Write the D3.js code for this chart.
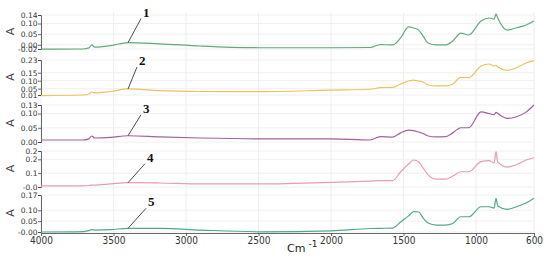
<!DOCTYPE html>
<html>
<head>
<meta charset="utf-8">
<script src="https://cdnjs.cloudflare.com/ajax/libs/d3/7.8.5/d3.min.js"></script>
<style>
  body { margin: 0; background: #fff; }
  svg { display: block; }
</style>
</head>
<body>
<div id="chart"></div>
<script>
// wavenumbers (cm-1) shared by all five spectra
var wavenumbers = [4000, 3710, 3670, 3650, 3630, 3520, 3400, 3180, 2900, 2490, 2000, 1730, 1660, 1575,
    1520, 1465, 1430, 1395, 1365, 1330, 1275, 1210, 1160, 1105, 1050, 965, 910, 875, 862, 850, 785, 725, 655, 600];

var spectrum1 = [-0.021, -0.020, -0.015, -0.001, -0.011, -0.004, 0.010, 0.004, -0.006, -0.014, -0.014, -0.013, 0.001, -0.001,
    0.032, 0.084, 0.079, 0.069, 0.041, 0.008, -0.001, -0.001, 0.018, 0.055, 0.046, 0.112, 0.126, 0.121, 0.145, 0.126, 0.069, 0.079, 0.093, 0.112];
var spectrum2 = [0.006, 0.010, 0.016, 0.029, 0.023, 0.032, 0.048, 0.037, 0.032, 0.031, 0.041, 0.046, 0.056, 0.058,
    0.079, 0.098, 0.104, 0.098, 0.092, 0.073, 0.067, 0.067, 0.079, 0.121, 0.119, 0.192, 0.205, 0.192, 0.197, 0.186, 0.165, 0.180, 0.211, 0.226];
var spectrum3 = [0.007, 0.007, 0.011, 0.021, 0.014, 0.016, 0.022, 0.018, 0.014, 0.011, 0.011, 0.007, 0.019, 0.017,
    0.032, 0.042, 0.040, 0.035, 0.030, 0.021, 0.018, 0.019, 0.032, 0.050, 0.050, 0.106, 0.100, 0.096, 0.104, 0.100, 0.083, 0.088, 0.105, 0.130];
var spectrum4 = [0.008, 0.008, 0.011, 0.014, 0.014, 0.022, 0.031, 0.029, 0.022, 0.022, 0.033, 0.043, 0.046, 0.046,
    0.110, 0.166, 0.195, 0.181, 0.138, 0.087, 0.057, 0.057, 0.079, 0.110, 0.110, 0.183, 0.190, 0.173, 0.255, 0.181, 0.144, 0.159, 0.195, 0.211];
var spectrum5 = [0.000, 0.002, 0.007, 0.011, 0.009, 0.011, 0.017, 0.017, 0.009, 0.001, 0.005, 0.016, 0.017, 0.018,
    0.046, 0.074, 0.094, 0.092, 0.064, 0.041, 0.032, 0.032, 0.039, 0.070, 0.070, 0.116, 0.116, 0.110, 0.155, 0.119, 0.104, 0.115, 0.133, 0.155];

var seriesNames = ["1", "2", "3", "4", "5"];
var seriesColors = ["#63a97b", "#e9c35e", "#a0629c", "#e79bb8", "#52a88c"];

// y axis ticks of each panel
var yTicks1 = [-0.02, 0.00, 0.05, 0.10, 0.14];
var yLabels1 = ["-0.02", "0.00", "0.05", "0.10", "0.14"];
var yTicks2 = [0.01, 0.05, 0.10, 0.15, 0.23];
var yLabels2 = ["0.01", "0.05", "0.10", "0.15", "0.23"];
var yTicks3 = [0.00, 0.05, 0.10, 0.13];
var yLabels3 = ["0.00", "0.05", "0.10", "0.13"];
var yTicks4 = [0.00, 0.10, 0.20, 0.26];
var yLabels4 = ["-0.0", "0.1", "0.2", "0.2"];
var yTicks5 = [0.00, 0.05, 0.10, 0.17];
var yLabels5 = ["-0.00", "0.05", "0.10", "0.17"];

var xTicks = [4000, 3500, 3000, 2500, 2000, 1500, 1000, 600];
var labelWavenumber = 3400;

var panels = [
    {values: spectrum1, ticks: yTicks1, labels: yLabels1, top: 15, bottom: 49, lead: [13, -24]},
    {values: spectrum2, ticks: yTicks2, labels: yLabels2, top: 60, bottom: 95, lead: [9, -22]},
    {values: spectrum3, ticks: yTicks3, labels: yLabels3, top: 105, bottom: 142, lead: [13, -21]},
    {values: spectrum4, ticks: yTicks4, labels: yLabels4, top: 151, bottom: 187, lead: [17, -19]},
    {values: spectrum5, ticks: yTicks5, labels: yLabels5, top: 195, bottom: 232, lead: [18, -20]}
];

var width = 550, height = 261;
var left = 41, right = 534, axisY = 233;

var svg = d3.select("#chart").append("svg")
    .attr("width", width)
    .attr("height", height);

var x = d3.scaleLinear().domain([4000, 600]).range([left, right]);

// faint vertical grid
svg.append("g").selectAll("line")
    .data(xTicks)
    .enter().append("line")
    .attr("x1", function (d) { return x(d); })
    .attr("x2", function (d) { return x(d); })
    .attr("y1", 12)
    .attr("y2", axisY)
    .attr("stroke", "#eeeeee")
    .attr("stroke-width", 1);

panels.forEach(function (p, i) {
    var y = d3.scaleLinear()
        .domain([p.ticks[0], p.ticks[p.ticks.length - 1]])
        .range([p.bottom, p.top]);

    // faint horizontal grid
    svg.append("g").selectAll("line")
        .data(p.ticks)
        .enter().append("line")
        .attr("x1", left)
        .attr("x2", right)
        .attr("y1", function (d) { return y(d); })
        .attr("y2", function (d) { return y(d); })
        .attr("stroke", "#f0f0f0");

    var yAxis = d3.axisLeft(y)
        .tickValues(p.ticks)
        .tickSize(3)
        .tickSizeOuter(3)
        .tickFormat(function (d, k) { return p.labels[k]; });

    var ga = svg.append("g")
        .attr("transform", "translate(" + left + ",0)")
        .call(yAxis);
    ga.selectAll("path, line").attr("stroke", "#444").attr("stroke-width", 0.8);
    ga.selectAll("text")
        .attr("x", -3.5)
        .attr("fill", "#333")
        .style("font-family", "DejaVu Sans")
        .style("font-size", "7.5px");

    // "A" axis title
    var mid = (p.top + p.bottom) / 2 - 0.5;
    svg.append("text")
        .attr("transform", "translate(14," + mid + ") rotate(-90)")
        .attr("text-anchor", "middle")
        .attr("fill", "#444")
        .style("font-family", "DejaVu Sans")
        .style("font-size", "11px")
        .text("A");

    var line = d3.line()
        .x(function (d, k) { return x(wavenumbers[k]); })
        .y(function (d) { return y(d); })
        .curve(d3.curveMonotoneX);

    svg.append("path")
        .datum(p.values)
        .attr("d", line)
        .attr("fill", "none")
        .attr("stroke", seriesColors[i])
        .attr("stroke-width", 1.2);

    // leader line and number
    var idx = wavenumbers.indexOf(labelWavenumber);
    var ex = x(labelWavenumber), ey = y(p.values[idx]);
    var sx = ex + p.lead[0], sy = ey + p.lead[1];
    svg.append("line")
        .attr("x1", ex).attr("y1", ey)
        .attr("x2", sx).attr("y2", sy)
        .attr("stroke", "#222")
        .attr("stroke-width", 0.8);
    svg.append("text")
        .attr("x", sx + 2)
        .attr("y", sy - 2)
        .attr("fill", "#111")
        .style("font-family", "Liberation Serif")
        .style("font-weight", "bold")
        .style("font-size", "13px")
        .text(seriesNames[i]);
});

var xAxis = d3.axisBottom(x)
    .tickValues(xTicks)
    .tickSize(3)
    .tickSizeOuter(0)
    .tickFormat(d3.format("d"));

var gx = svg.append("g")
    .attr("transform", "translate(0," + axisY + ")")
    .call(xAxis);
gx.selectAll("path, line").attr("stroke", "#444").attr("stroke-width", 0.8);
gx.selectAll("text")
    .attr("y", 4)
    .attr("fill", "#333")
    .style("font-family", "DejaVu Sans Condensed, DejaVu Sans")
    .style("font-size", "10px");

var title = svg.append("text")
    .attr("x", 287)
    .attr("y", 252)
    .attr("fill", "#222")
    .style("font-family", "DejaVu Sans")
    .style("font-size", "11px");
title.append("tspan").text("Cm");
title.append("tspan").attr("dx", 3).attr("dy", -5).style("font-size", "9px").text("-1");
</script>
</body>
</html>
